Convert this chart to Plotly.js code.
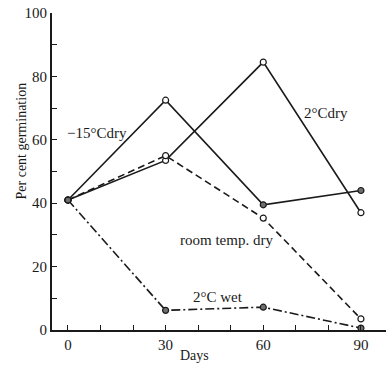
<!DOCTYPE html>
<html>
<head>
<meta charset="utf-8">
<script src="https://cdn.plot.ly/plotly-3.0.1.min.js"></script>
<style>
  html, body { margin: 0; padding: 0; background: #fff; }
  #chart { width: 388px; height: 365px; }
</style>
</head>
<body>
<div id="chart"></div>
<script>
// Germination of stored seed, sampled at 0, 30, 60 and 90 days
const days = [0, 30, 60, 90];
const minus15Dry = [41, 72.5, 39.5, 44];
const twoCDry = [41, 53.5, 84.5, 37];
const roomTempDry = [41, 55, 35.3, 3.5];
const twoCWet = [41, 6.2, 7.2, 0.6];

const seriesNames = ['\u221215\u00b0Cdry', '2\u00b0Cdry', 'room temp. dry', '2\u00b0C wet'];
const xTickVals = [0, 10, 20, 30, 40, 50, 60, 70, 80, 90];
const xTickText = ['0', '', '', '30', '', '', '60', '', '', '90'];
const yTickVals = [0, 10, 20, 30, 40, 50, 60, 70, 80, 90, 100];
const yTickText = ['0', '', '20', '', '40', '', '60', '', '80', '', '100'];

const ink = '#1a1a1a';
const font = 'Liberation Serif, DejaVu Serif, serif';
const OPEN = '#ffffff';
const SOLID = '#6e6e6e';

function series(y, dash, fills) {
  return {
    x: days, y: y, type: 'scatter', mode: 'lines+markers',
    line: { color: ink, width: 1.6, dash: dash },
    marker: { size: 6, symbol: 'circle', color: fills, line: { color: ink, width: 1.2 } },
    showlegend: false, hoverinfo: 'skip'
  };
}

const data = [
  series(minus15Dry, 'solid', [SOLID, OPEN, SOLID, SOLID]),
  series(twoCDry, 'solid', [SOLID, OPEN, OPEN, OPEN]),
  series(roomTempDry, '7px,4px', [SOLID, OPEN, OPEN, OPEN]),
  series(twoCWet, '9px,3px,2px,3px', [SOLID, SOLID, SOLID, SOLID])
];

// label anchor points, in data units
const labelPos = [
  { x: 8.8, y: 62.3 },
  { x: 79.2, y: 68.5 },
  { x: 48.8, y: 28.4 },
  { x: 46, y: 10.3 }
];

const annotations = seriesNames.map((t, i) => ({
  x: labelPos[i].x, y: labelPos[i].y, xref: 'x', yref: 'y',
  text: t, showarrow: false, font: { family: font, size: 15, color: ink }
}));

// axis titles placed as annotations
annotations.push({
  x: 39, y: -0.079, xref: 'x', yref: 'paper', yanchor: 'middle', text: 'Days', showarrow: false,
  font: { family: font, size: 14, color: ink }
});
annotations.push({
  x: -0.12, y: 0.596, xref: 'paper', yref: 'paper', textangle: -90,
  text: 'Per cent germination', showarrow: false,
  font: { family: font, size: 14, color: ink }
});

const layout = {
  width: 388, height: 365,
  margin: { l: 52, r: 2, t: 13, b: 35 },
  paper_bgcolor: '#fff', plot_bgcolor: '#fff',
  font: { family: font, size: 13, color: ink },
  xaxis: {
    range: [-4.9, 97.7], tickvals: xTickVals, ticktext: xTickText,
    ticks: 'inside', ticklen: 5, tickwidth: 1, tickcolor: ink,
    showline: true, linecolor: ink, linewidth: 1.5, showgrid: false, zeroline: false,
    tickfont: { family: font, size: 15, color: ink }
  },
  yaxis: {
    range: [0, 100], tickvals: yTickVals, ticktext: yTickText,
    ticks: 'inside', ticklen: 5, tickwidth: 1, tickcolor: ink,
    showline: true, linecolor: ink, linewidth: 2, showgrid: false, zeroline: false,
    tickfont: { family: font, size: 15, color: ink }
  },
  annotations: annotations
};

Plotly.newPlot('chart', data, layout, { staticPlot: true, displayModeBar: false });
</script>
</body>
</html>
